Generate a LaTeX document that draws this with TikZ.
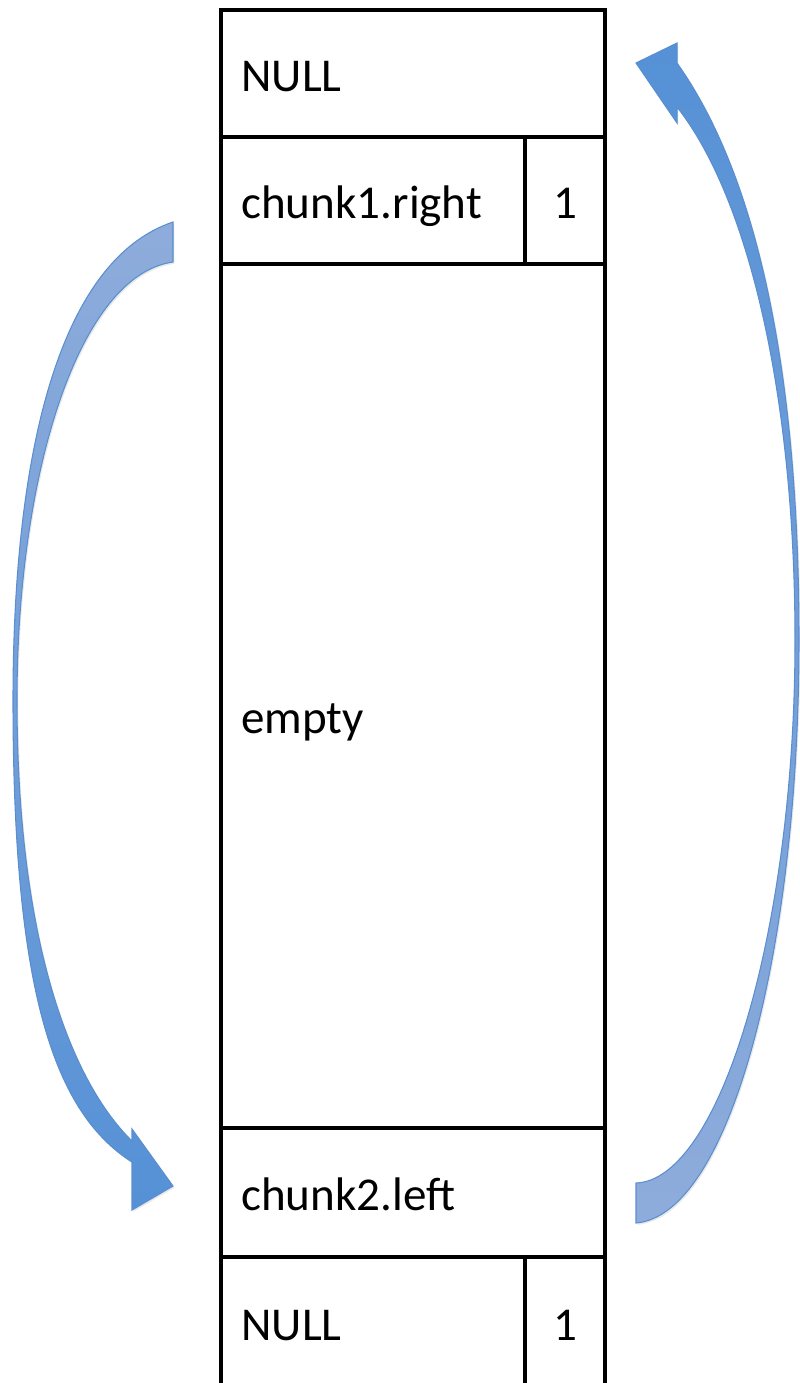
\documentclass[tikz,border=0pt]{standalone}
\usepackage{fontspec}
\setmainfont{Carlito}
\usepackage{tikz}
\usetikzlibrary{shadows}
\definecolor{arrowlight}{HTML}{8EACDB}
\definecolor{arrowdark}{HTML}{5591D6}
\definecolor{arrowedge}{HTML}{5A8ECF}
\tikzset{
  cell/.style={draw=black,line width=2.6pt},
  lbl/.style={anchor=base west,inner sep=0pt,font=\fontsize{26.8}{32}\selectfont},
  num/.style={lbl,anchor=base},
  blockarrow/.style={draw=arrowedge,line width=0.6pt,line join=miter,
    drop shadow={opacity=0.18,shadow xshift=0.8pt,shadow yshift=-1pt}}
}
\begin{document}
\begin{tikzpicture}[x=0.02cm,y=-0.02cm]
\useasboundingbox (0,0) rectangle (800,1383);
\clip (0,0) rectangle (800,1383);
% memory cells
\draw[cell] (221,10) rectangle (605,137);
\draw[cell] (221,137) rectangle (525,264);
\draw[cell] (525,137) rectangle (605,264);
\draw[cell] (221,264) rectangle (605,1128);
\draw[cell] (221,1128) rectangle (605,1257);
\draw[cell] (221,1257) rectangle (525,1420);
\draw[cell] (525,1257) rectangle (605,1420);
\node[lbl] (nulltop) at (241,91) {NULL};
\node[lbl] (rightptr) at (241,218) {chunk1.right};
\node[num] (sizetop) at (565,218) {1};
\node[lbl] (empty) at (241,733) {empty};
\node[lbl] (leftptr) at (241,1210) {chunk2.left};
\node[lbl] (nullbot) at (241,1340) {NULL};
\node[num] (sizebot) at (565,1340) {1};
% chunk1.right -> chunk2.left
\path[blockarrow,top color=arrowlight,middle color=arrowdark,bottom color=arrowdark]
  (173,222) .. controls (60,260) and (13,450) .. (13,700)
  .. controls (13,980) and (50,1110) .. (132,1162)
  -- (132,1210) -- (173,1186) -- (132,1129) -- (132,1141)
  .. controls (70,1080) and (17,940) .. (17,700)
  .. controls (17,470) and (80,275) .. (173,262) -- cycle;
% chunk2.left -> top
\path[blockarrow,top color=arrowdark,middle color=arrowdark,bottom color=arrowlight]
  (636,1223) .. controls (730,1215) and (799,950) .. (799,640)
  .. controls (799,380) and (760,180) .. (677,63)
  -- (677,43) -- (636,63) -- (677,123) -- (677,107)
  .. controls (750,200) and (795,400) .. (795,640)
  .. controls (795,930) and (720,1180) .. (636,1183) -- cycle;
\end{tikzpicture}
\end{document}
